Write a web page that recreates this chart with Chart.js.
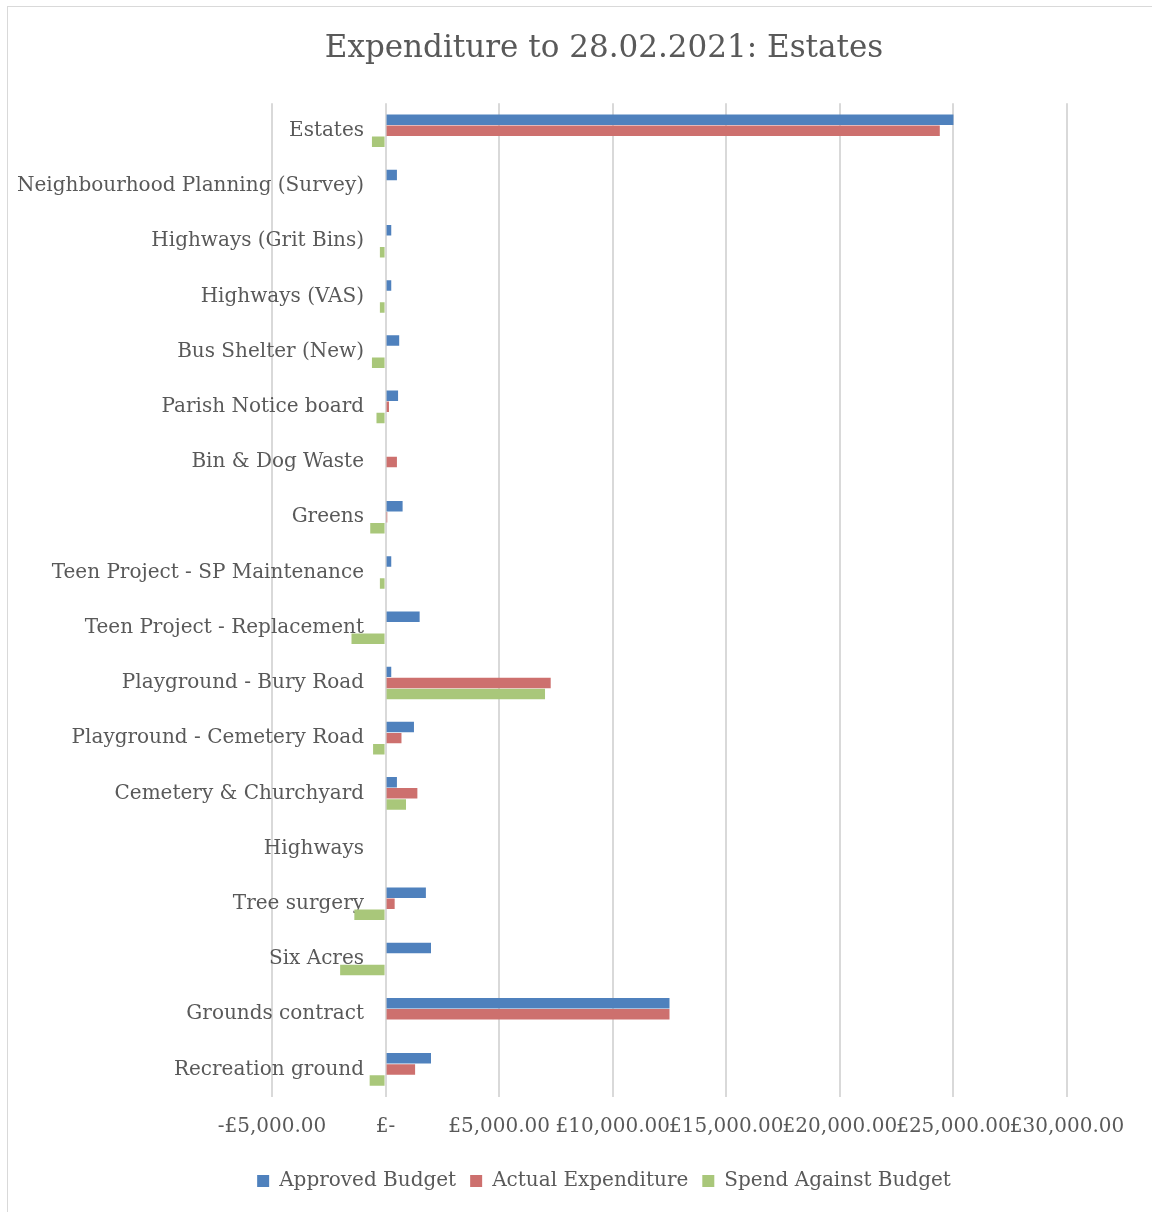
<!DOCTYPE html>
<html>
<head>
<meta charset="utf-8">
<script src="https://cdn.jsdelivr.net/npm/chart.js@4/dist/chart.umd.min.js"></script>
<style>
  html, body { margin: 0; padding: 0; background: #fff; overflow: hidden; }
  #wrap { position: relative; width: 1152px; height: 1212px; overflow: hidden; }
  #frame { position: absolute; left: 7px; top: 6px; width: 1200px; height: 1220px; border: 1px solid #d9d9d9; box-sizing: border-box; }
  #box { position: absolute; left: 0; top: 0; width: 1208px; height: 1212px; }
</style>
</head>
<body>
<div id="wrap">
  <div id="frame"></div>
  <div id="box"><canvas id="graphique"></canvas></div>
</div>
<script>
// Catégories (de haut en bas)
const categories = [
  'Estates',
  'Neighbourhood Planning (Survey)',
  'Highways (Grit Bins)',
  'Highways (VAS)',
  'Bus Shelter (New)',
  'Parish Notice board',
  'Bin & Dog Waste',
  'Greens',
  'Teen Project - SP Maintenance',
  'Teen Project - Replacement',
  'Playground - Bury Road',
  'Playground - Cemetery Road',
  'Cemetery & Churchyard',
  'Highways',
  'Tree surgery',
  'Six Acres',
  'Grounds contract',
  'Recreation ground'
];

// Valeurs (£)
const approvedBudget = [25000, 500, 250, 250, 600, 550, 0, 750, 250, 1500, 250, 1250, 500, 0, 1775, 2000, 12500, 2000];
const actualExpenditure = [24400, 0, 0, 0, 0, 150, 500, 75, 0, 0, 7270, 700, 1400, 0, 400, 0, 12500, 1300];
const spendAgainstBudget = [-600, 0, -250, -250, -600, -400, 0, -675, -250, -1500, 7020, -550, 900, 0, -1375, -2000, 0, -700];

const seriesNames = ['Approved Budget', 'Actual Expenditure', 'Spend Against Budget'];
const axisMin = -5000;
const axisMax = 30000;
const axisStep = 5000;

const serif = "'DejaVu Serif', 'Liberation Serif', serif";
const grey = '#595959';

function formatPounds(v) {
  if (v === 0) return '£-';
  const s = Math.abs(v).toLocaleString('en-GB', { minimumFractionDigits: 2, maximumFractionDigits: 2 });
  return (v < 0 ? '-£' : '£') + s;
}

// axe vide qui sert seulement à réserver de la place sur un côté
function spacer(position, size) {
  return {
    type: 'linear',
    position: position,
    display: true,
    grid: { display: false },
    border: { display: false },
    ticks: { display: false },
    afterFit: (s) => { s.width = size; }
  };
}

const ctx = document.getElementById('graphique').getContext('2d');
const chart = new Chart(ctx, {
  type: 'bar',
  data: {
    labels: categories,
    datasets: [
      { label: seriesNames[0], data: approvedBudget, backgroundColor: '#4f81bd' },
      { label: seriesNames[1], data: actualExpenditure, backgroundColor: '#cd706e' },
      { label: seriesNames[2], data: spendAgainstBudget, backgroundColor: '#a9c77a' }
    ]
  },
  options: {
    indexAxis: 'y',
    responsive: true,
    maintainAspectRatio: false,
    animation: false,
    categoryPercentage: 0.6,
    barPercentage: 0.95,
    layout: { padding: { left: 0, right: 0, top: 0, bottom: 11 } },
    scales: {
      x: {
        min: axisMin,
        max: axisMax,
        grid: { color: '#d9d9d9', lineWidth: 2, drawTicks: false },
        border: { display: false },
        ticks: {
          stepSize: axisStep,
          autoSkip: false,
          maxRotation: 0,
          padding: 18,
          color: grey,
          font: { family: serif, size: 20 },
          callback: (v) => formatPounds(v)
        }
      },
      y: {
        position: { x: -950 },
        grid: { display: false, drawTicks: false },
        border: { display: false },
        ticks: {
          color: grey,
          font: { family: serif, size: 20 }
        }
      },
      gauche: spacer('left', 272),
      droite: spacer('right', 141)
    },
    plugins: {
      title: {
        display: true,
        text: 'Expenditure to 28.02.2021: Estates',
        color: grey,
        font: { family: serif, size: 31, weight: 'normal' },
        padding: { top: 30, bottom: 36 }
      },
      legend: {
        position: 'bottom',
        labels: {
          boxWidth: 12,
          boxHeight: 12,
          padding: 14,
          color: grey,
          font: { family: serif, size: 20 }
        }
      },
      tooltip: { enabled: false }
    }
  }
});
</script>
</body>
</html>
